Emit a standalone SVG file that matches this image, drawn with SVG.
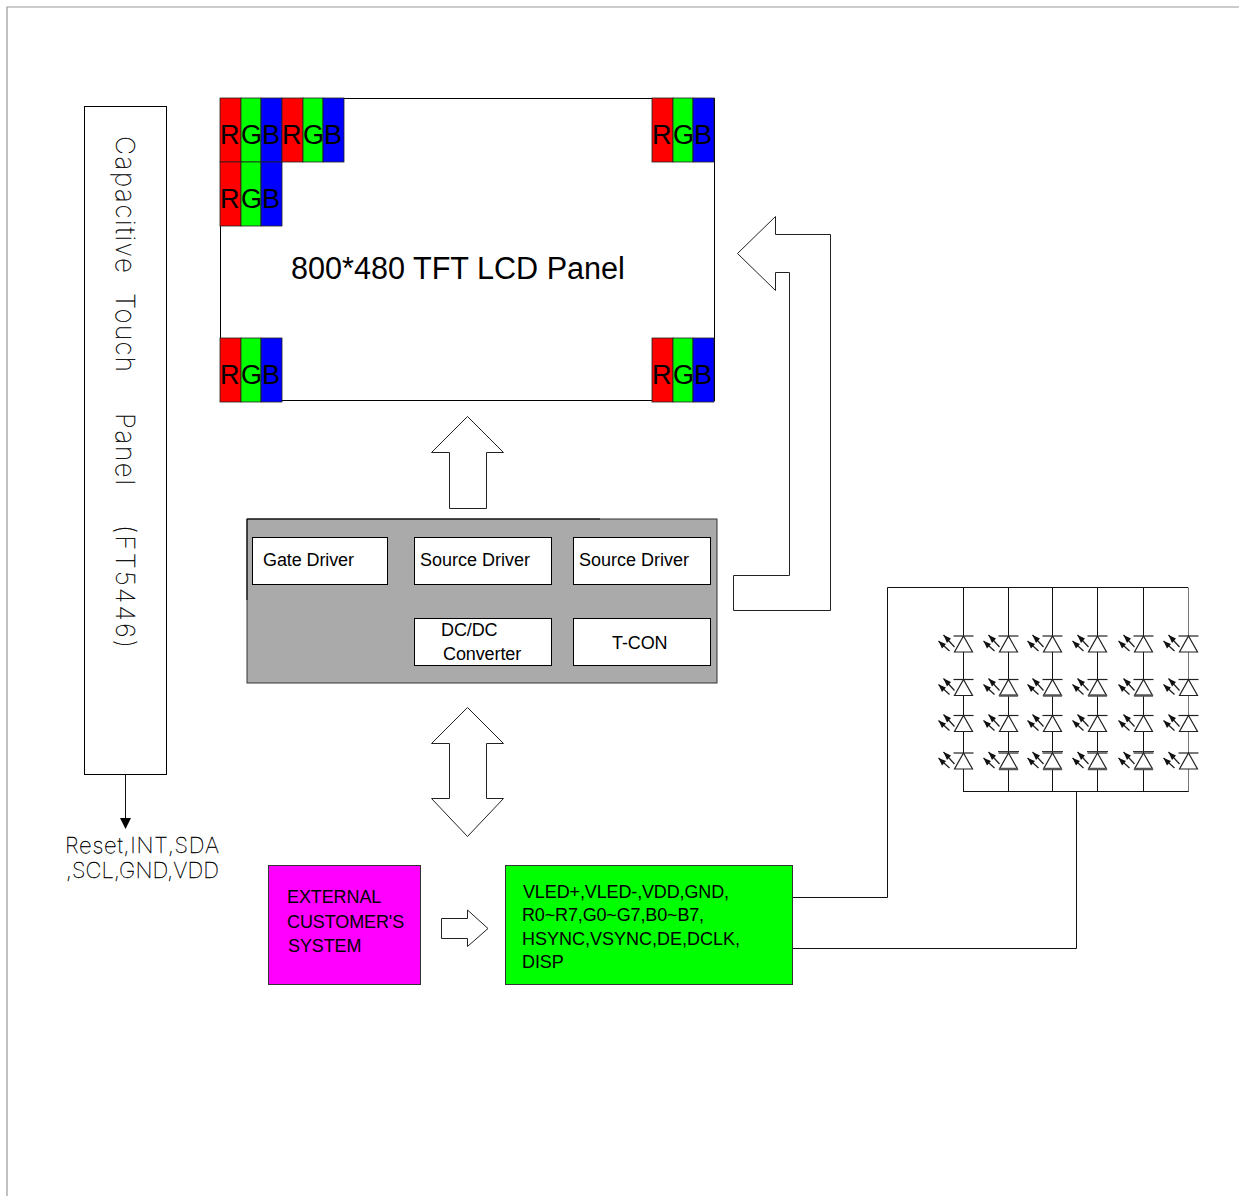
<svg xmlns="http://www.w3.org/2000/svg" width="1239" height="1196" viewBox="0 0 1239 1196">
<style>
.o{fill:#fff;stroke:#000;stroke-width:1}
.a{fill:#fff;stroke:#222;stroke-width:1}
.l{fill:none;stroke:#111;stroke-width:1}
.t{font-family:"Liberation Sans",Arial,sans-serif;fill:#000}
.s{font-size:18px;letter-spacing:-.1px}
.rgb{font-size:27px}
.thin{font-family:Inter,"Liberation Sans",sans-serif;font-weight:100;fill:#000;stroke:#000;stroke-width:.35px}
.led{fill:#fff;stroke:#222;stroke-width:1.2}
.g{stroke:#777}
.b{stroke:#555;stroke-width:2.5;fill:none}
</style>
<defs>
<g id="rgb">
<rect x="0" y="0" width="21" height="64" fill="#f00" stroke="#222" stroke-width=".8"/>
<rect x="21" y="0" width="20" height="64" fill="#0f0" stroke="#222" stroke-width=".8"/>
<rect x="41" y="0" width="21" height="64" fill="#00f" stroke="#222" stroke-width=".8"/>
<text class="t rgb" x="0" y="46">R</text><text class="t rgb" x="21" y="46">G</text><text class="t rgb" x="42" y="46">B</text>
</g>
<g id="d">
<path class="led" d="M0 0L9 16L-9 16Z"/>
<path d="M-10 0H10" stroke="#222" stroke-width="1.2"/>
<path d="M-20 -1L-9 11M-25 5L-14 15" fill="none" stroke="#222" stroke-width="1.3"/>
<path d="M-20 -1L-12.500 2.500L-16.500 7ZM-25 5L-17.500 8L-21.500 12.500Z" fill="#111"/>
</g>
</defs>
<path d="M7 1196V7H1239" fill="none" stroke="#999" stroke-width="1.2"/>
<g id="touch-panel">
<rect class="o" x="84.500" y="106.500" width="82" height="668" stroke="#333"/>
<g class="thin" font-size="26">
<text transform="translate(116,136) rotate(90)" textLength="137" lengthAdjust="spacing">Capacitive</text>
<text transform="translate(116,293) rotate(90)" textLength="79" lengthAdjust="spacing">Touch</text>
<text transform="translate(116,413) rotate(90)" textLength="72" lengthAdjust="spacing">Panel</text>
<text transform="translate(116,525) rotate(90)" textLength="123" lengthAdjust="spacing">(FT5446)</text>
</g>
</g>
<g id="touch-signals">
<text class="thin" font-size="22" x="65" y="853" textLength="154">Reset,INT,SDA</text>
<text class="thin" font-size="22" x="66" y="878" textLength="153">,SCL,GND,VDD</text>
</g>
<g id="lcd-panel">
<rect class="o" x="220.500" y="98.500" width="494" height="302"/>
<use href="#rgb" x="220" y="98"/><use href="#rgb" x="282" y="98"/><use href="#rgb" x="220" y="162"/>
<use href="#rgb" x="652" y="98"/><use href="#rgb" x="220" y="338"/><use href="#rgb" x="652" y="338"/>
<text class="t" font-size="30.600" x="291" y="279">800*480 TFT LCD Panel</text>
</g>
<g id="driver-board">
<rect x="247" y="519" width="470" height="164" fill="#aaa" stroke="#333"/>
<path d="M247 519H600M247 519V600" fill="none" stroke="#000"/>
</g>
<g id="gate-driver"><rect class="o" x="252.500" y="537.500" width="135" height="47"/><text class="t s" x="263" y="566">Gate Driver</text></g>
<g id="source-driver-1"><rect class="o" x="414.500" y="537.500" width="137" height="47"/><text class="t s" x="420" y="566" textLength="110">Source Driver</text></g>
<g id="source-driver-2"><rect class="o" x="573.500" y="537.500" width="137" height="47"/><text class="t s" x="579" y="566" textLength="110">Source Driver</text></g>
<g id="dcdc"><rect class="o" x="414.500" y="618.500" width="137" height="47"/><text class="t s" x="441" y="636">DC/DC</text><text class="t s" x="443" y="660">Converter</text></g>
<g id="tcon"><rect class="o" x="573.500" y="618.500" width="137" height="47"/><text class="t s" x="612" y="649">T-CON</text></g>
<g id="external"><rect x="268.500" y="865.500" width="152" height="119" fill="#f0f" stroke="#333"/>
<g class="t s"><text x="287" y="903">EXTERNAL</text><text x="287" y="928">CUSTOMER'S</text><text x="288" y="952">SYSTEM</text></g></g>
<g id="interface"><rect x="505.500" y="865.500" width="287" height="119" fill="#0f0" stroke="#333"/>
<g class="t s"><text x="523" y="898" textLength="206">VLED+,VLED-,VDD,GND,</text><text x="522" y="921" textLength="182">R0~R7,G0~G7,B0~B7,</text><text x="522" y="945" textLength="218">HSYNC,VSYNC,DE,DCLK,</text><text x="522" y="968">DISP</text></g></g>
<g id="led-array">
<path class="l" d="M963.500 587.500V791.500M1008.500 587.500V791.500M1052.500 587.500V791.500M1097.500 587.500V791.500M1143.500 587.500V791.500M963 791.500H1189"/>
<path class="l g" d="M1188.500 587.500V791.500"/>
<use href="#d" x="963.500" y="636"/><use href="#d" x="963.500" y="679.500"/><use href="#d" x="963.500" y="715.500"/><use href="#d" x="963.500" y="753"/>
<use href="#d" x="1008.500" y="636"/><use href="#d" x="1008.500" y="679.500"/><use href="#d" x="1008.500" y="715.500"/><use href="#d" x="1008.500" y="753"/>
<use href="#d" x="1052.500" y="636"/><use href="#d" x="1052.500" y="679.500"/><use href="#d" x="1052.500" y="715.500"/><use href="#d" x="1052.500" y="753"/>
<use href="#d" x="1097.500" y="636"/><use href="#d" x="1097.500" y="679.500"/><use href="#d" x="1097.500" y="715.500"/><use href="#d" x="1097.500" y="753"/>
<use href="#d" x="1143.500" y="636"/><use href="#d" x="1143.500" y="679.500"/><use href="#d" x="1143.500" y="715.500"/><use href="#d" x="1143.500" y="753"/>
<use href="#d" x="1188.500" y="636"/><use href="#d" x="1188.500" y="679.500"/><use href="#d" x="1188.500" y="715.500"/><use href="#d" x="1188.500" y="753"/>
<path class="b" d="M999 695.500H1018M999 769H1018M1043 695.500H1062M1043 769H1062M1088 695.500H1107M1088 769H1107M1134 695.500H1153M1134 769H1153"/>
<path d="M998 751.500H1019M1042 751.500H1063M1087 751.500H1108M1133 751.500H1154" stroke="#333"/>
</g>
<g id="connectors">
<path class="a" d="M449.500 508.500V452.500H431.500L467.500 416.500L503.500 452.500H486.500V508.500Z"/>
<path class="a" d="M467.500 707.500L503.500 743.500H486.500V798.500H503.500L467.500 836.500L431.500 798.500H449.500V743.500H431.500Z"/>
<path class="a" d="M441.500 918.500H467.500V910L488 928.500L467.500 946.500V938.500H441.500Z"/>
<path class="a" d="M733.500 575.500H789.500V272.500H775.500V290.500L737.500 253.500L775.500 216.500V234.500H830.500V610.500H733.500Z"/>
<path class="l" d="M125.500 775V820"/><path d="M120 818H131L125.500 829Z" fill="#000"/>
<path class="l" d="M793 897.500H887.500V587.500H1188M793 948.500H1076.500V791"/>
</g>
</svg>
